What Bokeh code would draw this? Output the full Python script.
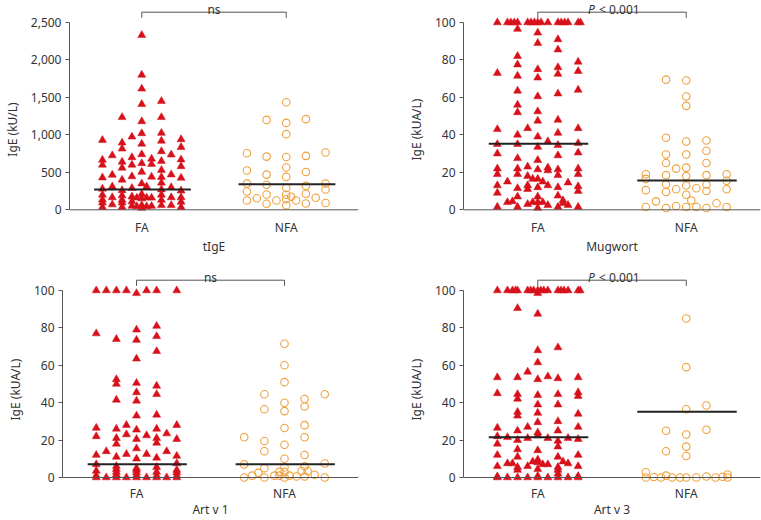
from bokeh.plotting import figure
from bokeh.layouts import row, column
from bokeh.models import Span, FixedTicker, NumeralTickFormatter
from bokeh.embed import file_html
from bokeh.resources import INLINE
from bokeh.core.properties import value

# ---------------- data ----------------
GROUPS = ["FA", "NFA"]
PANEL_NAMES = ["tIgE", "Mugwort", "Art v 1", "Art v 3"]
Y_TITLES = ["IgE (kU/L)", "IgE (kUA/L)", "IgE (kUA/L)", "IgE (kUA/L)"]
Y_MAX = [2500, 100, 100, 100]
Y_TICKS = [[0, 500, 1000, 1500, 2000, 2500],
           [0, 20, 40, 60, 80, 100],
           [0, 20, 40, 60, 80, 100],
           [0, 20, 40, 60, 80, 100]]
P_LABELS = ["ns", "P < 0.001", "ns", "P < 0.001"]
MEDIAN_FA = [270, 35.2, 7.1, 21.5]
MEDIAN_NFA = [340, 15.7, 7.1, 35.2]

# (swarm column, values) per group
TIGE_FA = [
    (-4, [930, 665, 600, 430, 280, 200, 135, 95, 35]),
    (-3, [725, 465, 310, 165, 70]),
    (-2, [1235, 895, 815, 640, 560, 400, 260, 190, 130, 95, 35]),
    (-1, [975, 700, 600, 445, 290, 175, 110, 50]),
    (-0.5, [160, 45]),
    (0, [2330, 1800, 1615, 1410, 1180, 1020, 880, 740, 620, 505, 350, 210, 150, 60, 25]),
    (0.5, [310, 160, 45]),
    (1, [680, 610, 440, 160, 50]),
    (2, [1450, 1235, 1025, 920, 780, 650, 530, 435, 360, 270, 200, 130, 60]),
    (3, [735, 470, 300, 165, 60]),
    (4, [940, 835, 670, 580, 425, 255, 165, 105, 35]),
]
TIGE_NFA = [
    (-4, [755, 525, 350, 245, 125]),
    (-3, [155]),
    (-2, [1200, 710, 470, 335, 205, 80]),
    (-1, [125]),
    (0, [1435, 1160, 1010, 705, 565, 440, 290, 200, 140, 60]),
    (0.5, [175]),
    (1, [125]),
    (2, [1210, 720, 505, 320, 215, 85]),
    (3, [160]),
    (4, [765, 350, 270, 90]),
]
MUG_FA = [
    (-4, [100, 73, 43, 35, 30, 22, 19, 13, 9, 1.5]),
    (-3, [100, 15, 4]),
    (-2.67, [100]),
    (-2.5, [4.5]),
    (-2.33, [100]),
    (-2, [100, 96.5, 82, 77.5, 71.5, 63.5, 56, 52, 40, 35, 27.5, 22, 19, 11.5, 7, 1.5]),
    (-1, [100, 43.5, 23, 18, 13, 11, 3]),
    (-0.67, [100]),
    (-0.5, [16.5, 4]),
    (-0.33, [100]),
    (0, [100, 94.5, 89, 75, 70.5, 60.5, 52.5, 47.5, 39, 33.5, 26.5, 21.5, 16.5, 12, 7, 4, 1]),
    (0.33, [100]),
    (0.5, [15, 4]),
    (1, [100, 36.5, 22.5, 21, 13, 2.5]),
    (2, [100, 91, 85.5, 76, 72.5, 62, 48, 41, 34.5, 29, 21.5, 18.5, 12, 7.5, 1.5]),
    (2.33, [100]),
    (2.5, [5, 3.5]),
    (2.67, [100]),
    (3, [100, 14.5, 2.5]),
    (4, [100, 79, 74, 64, 43.5, 35.5, 30.5, 22, 19, 12.5, 10, 1.5]),
    (4.23, [100]),
]
MUG_NFA = [
    (-4, [19, 16.5, 10.5, 1.5]),
    (-3, [4.5]),
    (-2, [69.5, 38.5, 29.5, 25, 18.5, 13.5, 9.5, 1]),
    (-1, [22, 11, 2]),
    (0, [69, 60.5, 55.5, 36.5, 29.5, 22.5, 18, 13, 8, 1.5]),
    (0.5, [5]),
    (1, [11.5, 1.5]),
    (2, [37, 31.5, 25, 18.5, 13.5, 10, 1]),
    (3, [3.5]),
    (4, [19, 15.5, 11, 1.5]),
]
ARTV1_FA = [
    (-4, [100, 77, 26.5, 22, 12, 7, 3.5, 1, 0]),
    (-3, [100, 14, 0]),
    (-2, [100, 74, 52.5, 50, 41.5, 26, 21, 18, 11, 6, 4.5, 3, 1.5, 0]),
    (-1, [100, 28, 23, 12.5, 0]),
    (0, [98.5, 79, 73.5, 63.5, 50.5, 45.5, 41, 33, 25.5, 20.5, 15.5, 10, 5, 4, 2.7, 1.2, 0]),
    (1, [100, 22.5, 12.5, 0]),
    (2, [100, 81, 75.5, 67.5, 49, 44.5, 33.5, 26, 21, 18.5, 10.5, 5.5, 3, 1, 0]),
    (3, [23.5, 14, 0]),
    (4, [100, 28, 20.5, 11.5, 7.5, 4, 2.7, 1, 0]),
]
ARTV1_NFA = [
    (-4, [21.5, 7, 0]),
    (-3.2, [1]),
    (-2.6, [2.5]),
    (-2, [44.5, 36.5, 19.5, 14, 5, 0]),
    (-1, [1]),
    (-0.5, [1, 3]),
    (0, [71.5, 60, 51, 40, 35.5, 26.5, 17.5, 10, 5.5, 3, 0]),
    (0.5, [1]),
    (1.2, [0.5]),
    (1.7, [3.5]),
    (2, [42, 38, 28, 21.5, 12, 6, 0.5]),
    (2.3, [3.5]),
    (3, [1.5]),
    (4, [44.5, 7.5, 0]),
]
ARTV3_FA = [
    (-4, [100, 53.5, 45, 26.5, 22, 18, 12, 6, 0.5, 0]),
    (-3, [100, 21.5, 7.5, 0]),
    (-2.5, [100, 7.5]),
    (-2.2, [100]),
    (-2, [100, 90.5, 53.5, 44.5, 42, 35, 33, 25, 20, 15, 11, 5.5, 4, 0]),
    (-1, [100, 56.5, 27, 21, 6, 0]),
    (-0.7, [100]),
    (-0.5, [8.5]),
    (-0.4, [100]),
    (0, [100, 98.5, 87.5, 68, 61.5, 52.5, 44, 39, 34.5, 29.5, 24, 22.5, 14.5, 9.5, 8, 4.5, 0.7, 0]),
    (0.3, [100]),
    (0.5, [7]),
    (0.6, [100]),
    (1, [100, 54, 21, 7, 0]),
    (2, [100, 69.5, 53, 44.5, 39, 30, 25, 19.5, 16.5, 11, 5.5, 4, 2, 0]),
    (2.3, [100]),
    (2.5, [8.5]),
    (2.6, [100]),
    (3, [100, 21, 7.5, 0]),
    (4, [100, 53.5, 45.5, 43.5, 34, 27, 20.5, 12, 6, 0.7, 0]),
    (4.2, [100]),
]
ARTV3_NFA = [
    (-4, [2.8, 0]),
    (-3.2, [0.3]),
    (-2.5, [0]),
    (-2, [25, 14, 1]),
    (-1.4, [0]),
    (-0.6, [0]),
    (0, [85, 59, 36.5, 23, 16.5, 11.5, 0]),
    (1, [0]),
    (2, [38.5, 25.5, 0.5]),
    (2.9, [0]),
    (3.6, [0.4]),
    (4.1, [1.6, 0]),
]
PANEL_DATA = [(TIGE_FA, TIGE_NFA), (MUG_FA, MUG_NFA),
              (ARTV1_FA, ARTV1_NFA), (ARTV3_FA, ARTV3_NFA)]

# ---------------- style ----------------
FONT = "Noto Sans"
RED = "#d7111b"
ORANGE = "#f0a03c"
AXIS_COL = "#555555"
TEXT_COL = "#333333"
COL_STEP = 0.068


def expand(cols, center):
    xs, ys = [], []
    for c, vals in cols:
        for v in vals:
            xs.append(center + c * COL_STEP)
            ys.append(v)
    return xs, ys


def txt(p, x, y, s, align="center", baseline="middle", x_offset=0, style="normal"):
    p.text(x=[x], y=[y], text=[s], x_offset=x_offset, text_align=align,
           text_baseline=baseline, text_font=value(FONT), text_font_size="12px",
           text_font_style=style, text_color=TEXT_COL)


def make_panel(i, width, height, border_left, border_right, top_px, zero_px,
               cat_px, name_px):
    ymax = Y_MAX[i]
    ppu = (zero_px - top_px) / ymax

    def yv(px):  # pixel row inside the figure -> data value
        return (zero_px - px) / ppu

    p = figure(width=width, height=height, x_range=(0.5, 2.5),
               y_range=(yv(height), yv(0)),
               output_backend="svg", toolbar_location=None, title=None,
               min_border_left=border_left, min_border_right=border_right,
               min_border_top=0, min_border_bottom=0)
    p.outline_line_color = None
    p.xgrid.visible = False
    p.ygrid.visible = False
    p.xaxis.visible = False
    p.background_fill_color = "white"
    p.border_fill_color = "white"

    fa, nfa = PANEL_DATA[i]
    fx, fy = expand(fa, 1)
    nx, ny = expand(nfa, 2)
    p.scatter(fx, fy, marker="triangle", size=8, fill_color=RED, line_color=RED, line_width=0.5)
    p.scatter(nx, ny, marker="circle", size=7.5, fill_alpha=0, line_color=ORANGE, line_width=1.1)

    # medians
    p.segment(x0=[1 - 0.33, 2 - 0.33], x1=[1 + 0.34, 2 + 0.34],
              y0=[MEDIAN_FA[i], MEDIAN_NFA[i]], y1=[MEDIAN_FA[i], MEDIAN_NFA[i]],
              line_color="#222222", line_width=2)

    # zero line (x axis)
    p.add_layout(Span(location=0, dimension="width", line_color=AXIS_COL, line_width=1))

    # significance bracket
    yb = yv(top_px - 10.3)
    yt = yv(top_px - 4.7)
    p.segment(x0=[1, 1, 2], x1=[2, 1, 2], y0=[yb, yb, yb], y1=[yb, yt, yt],
              line_color=AXIS_COL, line_width=1)
    ty = yv(top_px - 13)
    lab = P_LABELS[i]
    if lab.startswith("P"):
        txt(p, 1.5, ty, "P", align="left", baseline="alphabetic", x_offset=-24, style="italic")
        txt(p, 1.5, ty, lab[1:].strip(), align="left", baseline="alphabetic", x_offset=-13)
    else:
        txt(p, 1.5, ty, lab, baseline="alphabetic")

    # category labels and panel name
    txt(p, 1, yv(cat_px), GROUPS[0])
    txt(p, 2, yv(cat_px), GROUPS[1])
    txt(p, 1.5, yv(name_px), PANEL_NAMES[i])

    # y axis
    ya = p.yaxis[0]
    ya.ticker = FixedTicker(ticks=Y_TICKS[i])
    ya.formatter = NumeralTickFormatter(format="0,0")
    ya.bounds = (0, ymax)
    ya.axis_line_color = AXIS_COL
    ya.major_tick_line_color = AXIS_COL
    ya.major_tick_in = 0
    ya.major_tick_out = 4
    ya.minor_tick_line_color = None
    ya.major_label_standoff = 4
    ya.major_label_text_font = FONT
    ya.major_label_text_font_size = "12px"
    ya.major_label_text_color = TEXT_COL
    ya.axis_label = Y_TITLES[i]
    ya.axis_label_text_font = FONT
    ya.axis_label_text_font_size = "12px"
    ya.axis_label_text_font_style = "normal"
    ya.axis_label_text_color = TEXT_COL
    ya.axis_label_standoff = 7
    return p


p1 = make_panel(0, 380, 258, 62, 22, 22, 209.3, 226.5, 246)
p2 = make_panel(1, 381, 258, 83, 1, 22, 209.3, 226.5, 246)
p3 = make_panel(2, 380, 262, 62, 22, 32, 219, 235, 251)
p4 = make_panel(3, 381, 262, 83, 1, 32, 219, 235, 251)

layout = column(row(p1, p2, spacing=0), row(p3, p4, spacing=0), spacing=0)

open("out.html", "w").write(file_html(layout, INLINE))
